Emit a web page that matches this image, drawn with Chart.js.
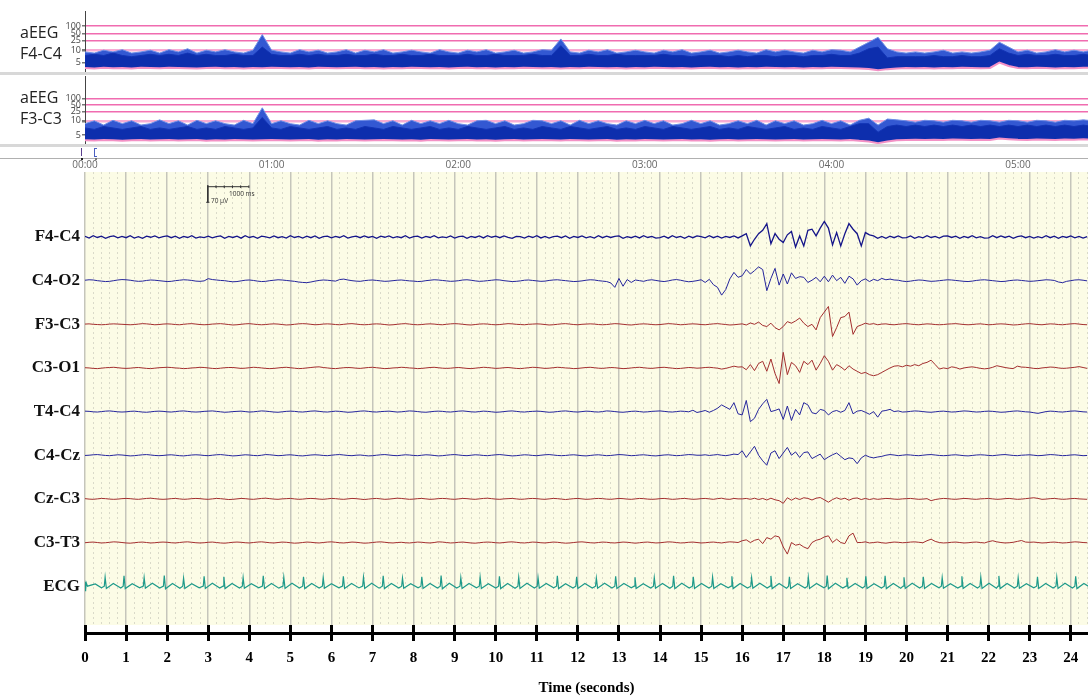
<!DOCTYPE html>
<html>
<head>
<meta charset="utf-8">
<script src="https://cdn.jsdelivr.net/npm/chart.js"></script>
<style>
  html, body { margin: 0; padding: 0; background: #fff; overflow: hidden; }
  #page { position: relative; width: 1088px; height: 700px; font-family: "Open Sans", sans-serif; }
  canvas { position: absolute; left: 0; }
  .sep { position: absolute; left: 0; width: 1088px; background: #d8d8d8; }
  .lbl { position: absolute; left: 20px; font-size: 16px; line-height: 16px; color: #222; }
  .cal { position: absolute; font-size: 6.5px; line-height: 7px; color: #333; white-space: nowrap; }
  .mk { position: absolute; }
</style>
</head>
<body>
<div id="page">
  <canvas id="aeegTop" width="1088" height="72" style="top:0px"></canvas>
  <canvas id="aeegBottom" width="1088" height="96" style="top:76px"></canvas>
  <canvas id="eeg" width="1088" height="453" style="top:172px"></canvas>
  <canvas id="ruler" width="1088" height="75" style="top:625px"></canvas>

  <div class="sep" style="top:72px;height:3px"></div>
  <div class="sep" style="top:144px;height:3px"></div>
  <div class="sep" style="top:158px;height:1px;background:#b0b0b0"></div>

  <div class="lbl" style="top:24px">aEEG</div>
  <div class="lbl" style="top:45px">F4-C4</div>
  <div class="lbl" style="top:89px">aEEG</div>
  <div class="lbl" style="top:110px">F3-C3</div>

  <div class="mk" style="left:81px;top:148px;width:1px;height:8px;background:#5a3f8f"></div>
  <div class="mk" style="left:94px;top:148px;width:2px;height:7px;border:1px solid #4a5fc0;border-right:none"></div>
  <div class="mk" style="left:81px;top:158px;width:2px;height:2px;background:#222"></div>
  <div class="mk" style="left:95px;top:158px;width:2px;height:2px;background:#777"></div>

  <div class="cal" style="left:229px;top:190px">1000 ms</div>
  <div class="cal" style="left:211px;top:197px">70 µV</div>
</div>

<script>
// ---- aEEG (amplitude integrated EEG), one sample every 0.05 min ----
const aeegStep = 0.05;
const f4c4Upper = [
  9.5,9,10.5,9.5,11,9,9.5,10.5,9,11,
  9.5,12,9,10.5,9.5,11,9.5,9,10.5,45,
  10.5,9.5,9,11,9.5,10.5,9,9.5,11,9,
  10.5,9.5,11,9,9.5,10.5,9.5,9,11,9.5,
  9,10.5,9.5,11,9,9.5,10.5,9,9.5,11,
  10.5,30,9.5,9,10.5,9.5,11,9,9.5,10.5,
  9.5,9,10.5,9.5,11,9,9.5,10.5,9,9.5,
  10.5,9.5,9,11,9.5,10.5,9.5,9,10.5,9.5,
  11,10.5,9.5,14,22,35,12,9.5,9,9.5,
  9,9.5,10.5,9,9.5,9,9.5,10.5,22,14,
  9.5,10.5,9,9.5,11,9.5,10.5,9.5,10.5
];
const f4c4Core = [
  8,8.5,8,9,8,7.5,8,8.5,8,8.5,
  8,9,8,8.5,8,8,8.5,8,8,14,
  8.5,8,8,8.5,8,8.5,8,8,8.5,8,
  8,8.5,8,8,8.5,8,8,8.5,8,8,
  8,8.5,8,8,8.5,8,8,8,8.5,8,
  8,16,8,8,8.5,8,8,8.5,8,8,
  8,8,8.5,8,8,7.5,8,8,8,7.5,
  8,7.5,8,8,7.5,8,8,7.5,8,8,
  8.5,8,8,9,12,14,7,7.5,7.5,7.5,
  7.5,8,7.5,7.5,8,7.5,7.5,8,12,9,
  8,8.5,8,8,8.5,8,8,8.5,8
];
const f4c4Lower = [
  2.8,2.6,2.9,2.7,2.8,2.6,2.9,2.8,2.7,2.9,
  2.8,2.7,2.6,2.8,2.9,2.7,2.8,2.6,2.8,2.7,
  2.9,2.8,2.7,2.8,2.6,2.9,2.8,2.7,2.8,2.9,
  2.7,2.8,2.6,2.8,2.7,2.9,2.8,2.7,2.8,2.6,
  2.8,2.9,2.7,2.8,2.6,2.8,2.7,2.9,2.8,2.7,
  2.8,2.6,2.8,2.7,2.9,2.8,2.7,2.8,2.6,2.8,
  2.7,2.9,2.8,2.7,2.8,2.6,2.8,2.9,2.7,2.8,
  2.6,2.8,2.7,2.9,2.8,2.7,2.8,2.6,2.8,2.7,
  2.9,2.8,2.7,2.6,2.4,1.8,2.3,2.6,2.8,2.7,
  2.8,2.6,2.8,2.7,2.9,2.8,2.7,2.8,5.0,3.6,
  2.8,2.7,2.9,2.8,2.6,2.8,2.7,2.9,2.8
];
const f3c3Upper = [
  9,10,8.5,10.5,9,10,8.5,9,11,9,
  10,8.5,10.5,9,10,9,8.5,10.5,9,38,
  9,10,9,8.5,10.5,9,10,9,8.5,10,
  10.5,11,9,10,8.5,10.5,9,10,9,10.5,
  9,8.5,10,10.5,9,10,8.5,9,10.5,10,
  9,10,8.5,10.5,9,10,9,8.5,10,9,
  10.5,9,10,8.5,9,10.5,9,10,8.5,9,
  10,9,10.5,8.5,10,9,10,8.5,9,10.5,
  9,10,8.5,10.5,13,8.5,12,11,10,9.5,
  10.5,10,9.5,10.5,10,9.5,10.5,10,9.5,10.5,
  10,9.5,10.5,10,9.5,10.5,10,11,10
];
const f3c3Core = [
  7.5,7,8,7.5,7,7.5,8,7,7.5,7,
  7.5,8,7,7.5,7,8,7.5,7,7.5,14,
  7.5,7,8,7.5,7,7.5,8,7,7.5,7,
  8,7.5,7,8,7.5,7,7.5,8,7,7.5,
  7,8,7.5,7,7.5,8,7,7.5,7,8,
  7.5,7,8,7.5,7,7.5,8,7,7.5,7,
  8,7.5,7,8,7.5,7,7.5,8,7,7.5,
  7,8,7.5,7,7.5,8,7,7.5,7,8,
  7.5,7,8,9,9,6,8,8.5,8,8.5,
  8,8.5,8,8.5,8,8.5,8,8.5,8,8.5,
  8,8.5,8,8.5,8,8.5,8,8.5,8
];
const f3c3Lower = [
  3.2,3.1,3.3,3.2,3.0,3.2,3.3,3.1,3.2,3.3,
  3.1,3.2,3.3,3.0,3.2,3.1,3.3,3.2,3.1,3.2,
  3.3,3.2,3.1,3.2,3.3,3.0,3.2,3.1,3.3,3.2,
  3.1,3.2,3.3,3.2,3.1,3.2,3.0,3.3,3.2,3.1,
  3.2,3.3,3.1,3.2,3.0,3.2,3.3,3.1,3.2,3.3,
  3.2,3.1,3.3,3.2,3.1,3.2,3.3,3.0,3.2,3.1,
  3.3,3.2,3.1,3.2,3.3,3.1,3.2,3.0,3.2,3.3,
  3.1,3.2,3.3,3.2,3.1,3.2,3.3,3.1,3.2,3.3,
  3.2,3.1,3.3,3.0,2.8,2.2,2.8,3.2,3.3,3.4,
  3.3,3.4,3.3,3.5,3.4,3.3,3.4,3.3,3.8,3.6,
  3.4,3.3,3.5,3.4,3.3,3.5,3.4,3.6,3.4
];
const aeegTicks = [5, 10, 25, 50, 100];
const minuteTicks = [0, 1, 2, 3, 4, 5];

// ---- raw EEG, µV, one sample every 0.1 s ----
const eegStep = 0.1;
const channelNames = ['F4-C4', 'C4-O2', 'F3-C3', 'C3-O1', 'T4-C4', 'C4-Cz', 'Cz-C3', 'C3-T3', 'ECG'];

const f4c4 = [
  3,-5,6,-2,4,-6,2,5,-4,3,
  -3,6,-5,2,-6,4,-1,5,-4,2,
  5,-3,4,-6,3,-2,6,-5,1,-3,
  4,-4,2,5,-6,3,-2,4,-5,6,
  -2,3,-6,4,1,-4,5,-3,2,-5,
  6,-2,3,-5,4,-3,5,-6,2,4,
  -4,3,-2,6,-5,1,4,-3,5,-2,
  3,-6,4,-1,5,-4,2,-3,6,-5,
  2,4,-5,3,-2,6,-4,1,-3,5,
  -5,2,4,-6,3,-2,5,-4,6,-1,
  4,-3,5,-2,-6,3,2,-5,4,-2,
  6,-4,3,-5,2,4,-3,5,-6,3,
  -2,5,-4,2,-5,6,-3,4,-2,3,
  5,-6,2,-3,4,-4,6,-2,3,-5,
  -3,4,-5,6,-2,3,-6,4,-3,5,
  2,-4,6,-3,4,-5,3,-2,5,-4,
  5,15,-40,-10,15,30,60,-30,15,-10,
  -25,10,25,-45,5,-40,30,35,5,40,
  70,40,-35,20,-40,15,60,35,15,-40,
  20,10,5,-6,3,-6,4,-3,5,-4,
  -3,5,-6,2,-4,6,-2,3,-5,4,
  5,-2,4,-6,3,-3,6,-4,2,-5,
  -4,6,-3,5,-2,4,-6,2,5,-3,
  3,-5,2,-4,6,-3,4,-6,3,-2,
  5,-4,3,-5,2
];
const c4o2 = [
  2,4,3,0,-2,-4,-3,0,3,5,
  4,2,-1,-3,-2,1,3,2,0,-2,
  -4,-3,0,2,4,3,1,-2,-3,-1,
  9,5,3,1,0,-3,-5,-4,-1,2,
  3,1,-2,-4,-3,0,2,4,3,1,
  -1,-3,-6,-8,-9,-6,-2,1,3,2,
  0,-2,5,7,3,0,-2,-3,0,2,
  3,1,-1,-3,-2,0,2,3,1,-1,
  -2,-4,-3,0,2,4,3,1,-1,-3,
  -2,0,3,4,2,-1,-3,-2,0,2,
  4,3,0,-2,-4,-3,-1,2,3,1,
  -1,-3,-2,1,3,4,2,0,-2,-4,
  -3,-1,2,4,3,0,-2,-4,-10,-30,
  10,-25,5,-8,3,0,-3,2,4,1,
  -2,-4,-1,3,5,2,-2,-5,-3,0,
  4,-8,6,-18,-30,-65,-40,8,37,15,
  22,50,30,45,62,50,-45,10,55,-20,
  30,-15,35,10,18,15,-8,2,15,-5,
  20,-5,25,0,15,-12,20,8,-20,0,
  8,-4,6,0,10,4,7,3,2,-2,
  -4,-2,1,3,2,-1,-3,-2,0,2,
  4,3,1,-1,-3,-4,-2,1,3,4,
  2,0,-2,-4,-3,0,2,3,1,-1,
  -3,-2,0,2,4,3,1,-6,-9,-3,
  0,3,4,2,-1
];
const f3c3 = [
  1,2,0,-1,-2,-1,1,2,1,0,
  -1,-2,-1,1,3,2,0,-2,-1,1,
  2,1,-1,-2,0,2,3,1,-1,-2,
  -1,1,2,3,1,-1,-3,-2,0,2,
  3,1,-1,-2,-1,1,2,1,-1,-3,
  -2,0,2,3,2,0,-2,-1,1,2,
  1,-1,-2,0,2,3,1,-1,-2,-1,
  1,2,1,-1,-3,-2,0,2,3,1,
  -1,-2,-1,1,2,1,-1,-2,0,2,
  3,2,0,-2,-3,-1,1,2,1,-1,
  -2,-1,1,3,2,0,-1,-2,0,1,
  2,1,-1,-3,-2,0,2,3,1,-1,
  -2,0,1,2,1,-1,-2,-1,1,3,
  2,0,-2,-3,-1,1,2,1,-1,-2,
  -1,1,3,2,0,-2,-1,1,2,1,
  -1,-2,0,2,3,1,-1,-3,-2,0,
  2,-3,6,0,10,-5,-10,5,-15,-25,
  -10,12,5,15,28,5,-10,0,-25,30,
  55,80,-55,-15,30,35,55,-45,-10,-3,
  5,0,3,-2,1,2,-1,-2,0,2,
  3,1,-1,-2,0,2,1,-1,-2,-1,
  1,2,3,1,-1,-2,-1,1,2,0,
  -2,-1,1,2,1,-1,-3,-2,0,2,
  3,1,-1,-2,0,2,1,-1,-2,0,
  2,3,1,-1,-2
];
const c3o1 = [
  1,0,-2,-3,-1,1,2,3,1,-1,
  -2,-1,1,2,0,-2,-3,-1,1,2,
  3,2,0,-1,-3,-2,0,1,3,2,
  0,-2,-3,-1,1,2,2,0,-2,-1,
  1,3,2,0,-2,-3,-2,0,2,3,
  1,-1,-3,-2,0,2,4,5,2,0,
  -2,-3,-1,1,2,1,-1,-2,0,2,
  3,1,-1,-3,-2,0,1,3,2,0,
  -1,-3,-2,0,2,3,1,-1,-2,-1,
  1,2,0,-2,-3,-1,1,3,2,0,
  -2,-1,1,2,0,-2,-3,-1,1,3,
  2,0,-2,-1,1,3,2,0,-1,-3,
  -2,0,2,3,1,-1,-2,0,2,1,
  -1,-3,-2,0,2,3,1,-1,-2,0,
  2,3,1,-1,-3,-2,0,2,1,-1,
  0,2,3,1,-1,-5,-2,3,8,4,
  5,-8,15,-12,20,30,-15,40,-25,-70,
  70,-30,25,10,-20,30,15,35,-10,20,
  55,30,-10,15,5,-10,10,-5,-15,-25,
  -20,-30,-35,-30,-20,-10,0,8,10,5,
  12,8,15,10,20,25,35,15,-5,0,
  -3,5,2,-5,0,3,5,2,-2,-4,
  -2,3,10,6,2,-1,-3,8,4,3,
  1,-2,-3,0,2,4,3,0,-2,-1,
  1,3,6,2,-2
];
const t4c4 = [
  2,1,-1,-2,0,2,3,1,-1,-2,
  -1,1,2,0,-2,-3,-1,1,2,1,
  -1,-2,0,2,3,1,-1,-2,-1,1,
  2,3,1,-1,-3,-2,0,1,2,0,
  -2,-1,1,3,2,0,-2,-3,-1,1,
  2,1,-1,-2,0,2,3,1,-1,-2,
  0,2,1,-1,-3,-2,0,2,3,1,
  -1,-2,0,1,2,0,-2,-1,1,3,
  2,0,-2,-3,-1,1,2,1,-1,-2,
  0,2,3,1,-1,-2,0,2,1,-1,
  -3,-2,0,2,3,1,-1,-2,0,1,
  2,1,-1,-3,-2,0,2,3,1,-1,
  -2,0,2,1,-1,-2,0,3,2,0,
  -2,-3,-1,1,2,0,-2,-1,1,2,
  3,1,-1,-2,0,2,1,-1,6,-4,
  0,5,-3,5,15,30,20,10,40,-10,
  -15,50,-45,-30,10,35,55,0,5,12,
  -35,25,-40,10,-15,40,30,-5,-10,10,
  5,-15,0,5,-3,5,40,-10,2,5,
  -3,-12,0,-25,2,5,10,0,3,-2,
  -1,1,3,2,0,-2,-3,-1,1,2,
  0,-2,-1,1,3,2,0,-2,-1,1,
  2,1,-1,-3,-2,0,2,3,1,-1,
  -2,-5,-8,-4,0,2,1,-1,-2,0,
  2,3,1,-1,-2
];
const c4cz = [
  -1,0,2,3,1,-1,-2,0,2,1,
  -1,-3,-2,0,2,3,1,-1,-2,-1,
  1,2,0,-2,-3,-1,1,2,1,-1,
  -2,0,2,3,1,-1,-3,-2,0,2,
  1,-1,-2,0,3,2,0,-2,-1,1,
  2,0,-2,-3,-1,1,2,1,-1,-2,
  0,2,3,1,-1,-2,0,1,-1,-3,
  -2,0,2,3,1,-1,-2,0,2,1,
  -1,-2,0,2,1,-1,-3,-2,0,2,
  3,1,-1,-2,0,2,1,-1,-2,0,
  2,3,1,-1,-3,-2,0,2,1,-1,
  -2,0,2,3,1,-1,-2,-1,1,2,
  0,-2,-3,-1,1,2,0,-2,-1,1,
  3,2,0,-2,-1,1,2,0,-2,-3,
  -1,1,2,0,-2,-1,1,3,2,0,
  0,2,-1,1,3,0,-2,1,5,3,
  20,-10,15,40,0,-25,-45,10,20,-15,
  10,35,0,15,-10,12,15,-15,-5,5,
  -20,-8,2,10,-5,-20,-12,-15,-38,-12,
  0,-8,-12,-8,-5,0,3,1,-2,0,
  2,1,-1,-2,0,2,3,1,-1,-2,
  -1,1,2,0,-2,-3,-1,1,2,1,
  -1,-2,0,2,3,1,-1,-2,0,1,
  2,0,-2,-1,1,3,2,0,-2,-1,
  1,2,0,-2,-1
];
const czc3 = [
  1,-1,-2,0,2,1,-1,-2,-1,1,
  2,1,-1,-2,0,2,3,1,-1,-2,
  -1,1,2,0,-2,-1,1,2,1,-1,
  -2,0,2,1,-1,-3,-2,0,2,1,
  -1,-2,0,2,3,1,-1,-2,0,1,
  2,0,-2,-1,1,2,1,-1,-2,0,
  2,1,-1,-2,0,2,1,-1,-3,-1,
  1,2,0,-2,-1,1,3,2,0,-2,
  -1,1,2,0,-2,-1,1,2,1,-1,
  -2,0,2,1,-1,-2,0,2,3,1,
  -1,-2,0,1,2,0,-2,-1,1,2,
  1,-1,-2,0,2,1,-1,-3,-1,1,
  2,0,-2,-1,1,2,1,-1,-2,0,
  2,1,-1,-2,0,2,1,-1,-2,-1,
  1,2,0,-2,-1,1,2,0,-2,-1,
  1,2,0,-2,1,3,-1,-2,2,0,
  0,2,-2,3,-3,2,-5,3,-4,-8,
  -20,5,-6,4,-3,5,2,-5,3,6,
  -4,-15,-3,5,-2,3,-6,2,4,-3,
  2,-3,1,-2,0,2,1,-1,-2,0,
  1,2,0,-2,-1,1,-8,-3,0,2,
  1,-1,-2,0,2,1,-1,-2,0,1,
  2,0,-2,-1,1,2,0,-2,-1,1,
  3,5,2,-2,-1,1,2,0,-2,-1,
  1,2,0,-1,-2
];
const c3t3 = [
  -1,1,2,0,-2,-1,1,3,2,0,
  -2,-3,-1,1,2,0,-2,-1,1,2,
  1,-1,-2,0,2,3,1,-1,-2,-1,
  1,2,0,-2,-3,-1,1,2,1,-1,
  -2,0,2,3,1,-1,-2,0,2,1,
  -1,-3,-2,0,2,1,-1,-2,0,2,
  3,1,-1,-2,0,2,1,-1,-3,-2,
  0,2,3,1,-1,-2,0,1,-1,-2,
  0,2,1,-1,-2,0,3,2,0,-2,
  -1,1,2,0,-2,-3,-1,1,2,1,
  -1,-2,0,2,3,1,-1,-2,0,2,
  1,-1,-2,0,2,1,-1,-3,-2,0,
  2,3,1,-1,-2,0,2,1,-1,-2,
  0,2,1,-1,-3,-1,1,2,0,-2,
  -1,1,3,2,0,-2,-1,1,2,0,
  -2,-1,1,2,0,-2,1,3,2,0,
  8,12,0,10,15,-5,22,15,30,25,
  -20,-52,0,-12,-8,-20,-28,0,10,15,
  25,30,0,15,0,-5,30,42,0,0,
  3,-2,0,2,-1,-3,0,2,1,-1,
  0,2,3,1,-1,8,15,5,0,-2,
  -1,1,2,0,-2,-1,1,2,0,-2,
  4,8,3,0,-2,-1,1,5,9,2,
  1,2,0,-2,-1,1,2,0,-2,-1,
  1,3,2,0,-1
];

// ECG read as breakpoints (s, µV): onset mark, then per beat pre-R, R, S, T, trough
const ecgTimes = [
  0.00,0.01,0.02,0.03,0.06,0.25,0.40,
  0.47,0.49,0.52,0.69,0.87,  0.93,0.95,0.98,1.15,1.33,  1.42,1.44,1.47,1.64,1.82,
  1.91,1.93,1.96,2.13,2.31,  2.38,2.40,2.43,2.60,2.78,  2.88,2.90,2.93,3.10,3.28,
  3.36,3.38,3.41,3.58,3.76,  3.83,3.85,3.88,4.05,4.23,  4.32,4.34,4.37,4.54,4.72,
  4.82,4.84,4.87,5.04,5.22,  5.30,5.32,5.35,5.52,5.70,  5.78,5.80,5.83,6.00,6.18,
  6.27,6.29,6.32,6.49,6.67,  6.76,6.78,6.81,6.98,7.16,  7.24,7.26,7.29,7.46,7.64,
  7.71,7.73,7.76,7.93,8.11,  8.18,8.20,8.23,8.40,8.58,  8.65,8.67,8.70,8.87,9.05,
  9.13,9.15,9.18,9.35,9.53,  9.60,9.62,9.65,9.82,10.00,  10.07,10.09,10.12,10.29,10.47,
  10.54,10.56,10.59,10.76,10.94,  11.01,11.03,11.06,11.23,11.41,  11.48,11.50,11.53,11.70,11.88,
  11.95,11.97,12.00,12.17,12.35,  12.43,12.45,12.48,12.65,12.83,  12.90,12.92,12.95,13.12,13.30,
  13.37,13.39,13.42,13.59,13.77,  13.84,13.86,13.89,14.06,14.24,  14.31,14.33,14.36,14.53,14.71,
  14.79,14.81,14.84,15.01,15.19,  15.26,15.28,15.31,15.48,15.66,  15.73,15.75,15.78,15.95,16.13,
  16.21,16.23,16.26,16.43,16.61,  16.68,16.70,16.73,16.90,17.08,  17.13,17.15,17.18,17.35,17.53,
  17.59,17.61,17.64,17.81,17.99,  18.05,18.07,18.10,18.27,18.45,  18.53,18.55,18.58,18.75,18.93,
  18.99,19.01,19.04,19.21,19.39,  19.46,19.48,19.51,19.68,19.86,  19.92,19.94,19.97,20.14,20.32,
  20.39,20.41,20.44,20.61,20.79,  20.85,20.87,20.90,21.07,21.25,  21.33,21.35,21.38,21.55,21.73,
  21.79,21.81,21.84,22.01,22.19,  22.23,22.25,22.28,22.45,22.63,  22.70,22.72,22.75,22.92,23.10,
  23.17,23.19,23.22,23.39,23.57,  23.64,23.66,23.69,23.86,24.04,  24.10,24.12,24.15,24.32,24.50
];
const ecgValues = [
  -20,20,-18,15,0,10,-7,
  0,40,-10,12,-8,  0,46,-11,11,-7,  0,38,-9,13,-8,
  0,48,-12,12,-9,  0,36,-10,11,-7,  0,44,-10,13,-8,
  0,42,-11,12,-8,  0,38,-9,11,-7,  0,46,-10,12,-9,
  0,40,-10,13,-8,  0,42,-11,12,-8,  0,38,-9,11,-7,
  0,44,-10,12,-8,  0,40,-10,13,-9,  0,46,-11,12,-8,
  0,36,-9,11,-7,  0,42,-10,12,-8,  0,48,-12,13,-8,
  0,38,-10,12,-7,  0,40,-10,11,-8,  0,44,-11,12,-9,
  0,40,-10,13,-8,  0,38,-9,12,-7,  0,46,-11,11,-8,
  0,42,-10,12,-8,  0,36,-9,13,-8,  0,44,-10,12,-7,
  0,40,-10,11,-8,  0,38,-9,12,-9,  0,46,-11,13,-8,
  0,42,-10,12,-8,  0,40,-10,11,-7,  0,44,-11,12,-8,
  0,38,-9,13,-8,  0,46,-11,12,-9,  0,42,-10,11,-8,
  0,40,-10,12,-7,  0,48,-12,13,-8,  0,38,-9,12,-8,
  0,44,-10,11,-8,  0,46,-11,12,-9,  0,40,-10,13,-8,
  0,42,-10,12,-7,  0,38,-9,11,-8,  0,44,-10,12,-8,
  0,40,-10,13,-9,  0,46,-11,12,-8,  0,38,-9,11,-7,
  0,42,-10,12,-8,  0,40,-10,13,-8,  0,44,-11,12,-8
];

// calibration mark: 1000 ms x 70 µV, segments [t0, v0, t1, v1]
const calSegments = [
  [2.99,128,3.99,128],
  [3.19,122,3.19,134], [3.39,122,3.39,134], [3.59,122,3.59,134], [3.79,122,3.79,134], [3.99,122,3.99,134],
  [2.99,134,2.99,58], [2.95,58,3.03,58]
];

const eegValues = [f4c4, c4o2, f3c3, c3o1, t4c4, c4cz, czc3, c3t3];
const eegColors = ['#15158a', '#25259c', '#a32e2e', '#a32e2e', '#25259c', '#25259c', '#a32e2e', '#a32e2e'];

// ---------------------------------------------------------------

// aEEG amplitude axis: linear 0-10 µV, logarithmic above 10 µV
class AeegScale extends Chart.LinearScale {
  static id = 'aeeg';
  static defaults = {};
  toUnit(v) {
    const w = this.options.linWeight || 1;
    return v <= 10 ? (v / 10 - 1) * w : Math.log10(v / 10);
  }
  fromUnit(u) {
    const w = this.options.linWeight || 1;
    return u <= 0 ? (u / w + 1) * 10 : 10 * Math.pow(10, u);
  }
  getPixelForValue(v) {
    const a = this.toUnit(this.min), b = this.toUnit(this.max);
    return this.getPixelForDecimal((this.toUnit(v) - a) / (b - a));
  }
  getValueForPixel(p) {
    const a = this.toUnit(this.min), b = this.toUnit(this.max);
    return this.fromUnit(a + this.getDecimalForPixel(p) * (b - a));
  }
}
Chart.register(AeegScale);

const serif = '"Liberation Serif", "Times New Roman", serif';
// fixed 85px gutter on the left, no extra room for half labels
const keepLeft = s => { s.width = 85; s.paddingTop = 0; s.paddingBottom = 0; };

function aeegSeries(vals) {
  return vals.map((v, i) => ({x: i * aeegStep, y: v}));
}

function aeegChart(id, upper, core, lower, range, withTime) {
  const x = {
    type: 'linear', min: 0, max: 5.375, display: withTime,
    afterBuildTicks: s => { s.ticks = minuteTicks.map(v => ({value: v})); },
    ticks: {
      callback: v => '0' + v + ':00', autoSkip: false, padding: 15,
      color: '#666', font: {family: '"Open Sans", sans-serif', size: 10}
    },
    grid: {display: false, drawTicks: false},
    border: {display: false}
  };
  if (withTime) x.afterFit = s => { s.height = 28; s.paddingLeft = 0; s.paddingRight = 0; };

  return new Chart(document.getElementById(id), {
    type: 'line',
    data: {
      datasets: [
        {data: aeegSeries(lower), borderColor: '#f391c5', borderWidth: 2, fill: false},
        {data: aeegSeries(core), borderColor: '#1234b5', borderWidth: 1, backgroundColor: '#0d2ead', fill: '-1'},
        {data: aeegSeries(upper), borderColor: '#6e8ee6', borderWidth: 1, backgroundColor: '#3358d2', fill: '-2'}
      ]
    },
    options: {
      responsive: false, animation: false, events: [], parsing: false,
      layout: {padding: {top: range.padTop}},
      elements: {point: {radius: 0}, line: {tension: 0}},
      plugins: {legend: {display: false}, tooltip: {enabled: false}},
      scales: {
        x: x,
        y: {
          type: 'aeeg', min: range.min, max: range.max, linWeight: range.w,
          afterBuildTicks: s => { s.ticks = aeegTicks.map(v => ({value: v})); },
          afterFit: keepLeft,
          ticks: {
            callback: v => String(v), autoSkip: false, padding: 1,
            color: '#444', font: {family: '"Open Sans", sans-serif', size: 9}
          },
          grid: {
            color: c => c.tick.value === 5 ? 'rgba(0,0,0,0)' : (c.tick.value === 10 ? '#f7acd4' : '#f06cb0'),
            lineWidth: c => c.tick.value === 10 ? 2.5 : 1.5,
            tickColor: '#777', tickLength: 3
          },
          border: {display: true, color: '#444', width: 1}
        }
      }
    }
  });
}

aeegChart('aeegTop', f4c4Upper, f4c4Core, f4c4Lower, {padTop: 11, min: 1.1, max: 407, w: 0.97}, false);
aeegChart('aeegBottom', f3c3Upper, f3c3Core, f3c3Lower, {padTop: 0, min: 1.9, max: 1000, w: 1.28}, true);

// ---- raw EEG panel: one stacked y axis per channel ----
const panelFill = {
  id: 'panelFill',
  beforeDraw(chart) {
    const {ctx, chartArea: a} = chart;
    ctx.save();
    ctx.fillStyle = '#fcfce6';
    ctx.fillRect(a.left, a.top, a.right - a.left, a.bottom - a.top);
    ctx.restore();
  }
};

const eegMax = 24.42;
const eegScales = {
  x: {
    type: 'linear', min: 0, max: eegMax,
    ticks: {display: false, stepSize: 1, includeBounds: false, autoSkip: false},
    grid: {color: '#c5c5bb', lineWidth: 1.5, drawTicks: false},
    border: {display: false}
  },
  x2: {
    type: 'linear', min: 0, max: eegMax,
    afterBuildTicks: s => { s.ticks = s.ticks.filter(t => Math.abs(t.value - Math.round(t.value)) > 0.01); },
    ticks: {display: false, stepSize: 0.2, includeBounds: false, autoSkip: false},
    grid: {color: '#dadac9', lineWidth: 1, drawTicks: false},
    border: {display: false, dash: [2, 3]}
  },
  sTop: {
    type: 'linear', axis: 'y', position: 'left', stack: 'eeg', stackWeight: 0.99, weight: 20,
    min: 0, max: 194, afterFit: keepLeft,
    ticks: {display: false}, grid: {display: false, drawTicks: false}, border: {display: false}
  },
  sBot: {
    type: 'linear', axis: 'y', position: 'left', stack: 'eeg', stackWeight: 0.39, weight: 1,
    min: -1, max: 1, afterFit: keepLeft,
    ticks: {display: false}, grid: {display: false, drawTicks: false}, border: {display: false}
  }
};
channelNames.forEach((name, i) => {
  eegScales['ch' + i] = {
    type: 'linear', axis: 'y', position: 'left', stack: 'eeg', stackWeight: 1, weight: 18 - i,
    min: -98, max: 98,
    afterBuildTicks: s => { s.ticks = [{value: 0}]; },
    afterFit: keepLeft,
    ticks: {
      callback: () => name, autoSkip: false, padding: 5, color: '#111',
      font: {family: serif, size: 17, weight: 'bold'}
    },
    grid: {display: false, drawTicks: false},
    border: {display: false}
  };
});

const eegDatasets = eegValues.map((vals, i) => ({
  data: vals.map((v, j) => ({x: j * eegStep, y: v})),
  yAxisID: 'ch' + i,
  borderColor: eegColors[i],
  borderWidth: i === 0 ? 1.3 : 1
}));
eegDatasets.push({
  data: ecgTimes.map((t, j) => ({x: t, y: ecgValues[j]})),
  yAxisID: 'ch8',
  borderColor: '#1f9a8a',
  borderWidth: 1.2
});
eegDatasets.push({
  data: calSegments.flatMap(s => [{x: s[0], y: s[1]}, {x: s[2], y: s[3]}, {x: s[2], y: null}]),
  yAxisID: 'sTop',
  borderColor: '#333',
  borderWidth: 1
});

new Chart(document.getElementById('eeg'), {
  type: 'line',
  data: {datasets: eegDatasets},
  options: {
    responsive: false, animation: false, events: [], parsing: false,
    elements: {point: {radius: 0}, line: {tension: 0}},
    plugins: {legend: {display: false}, tooltip: {enabled: false}},
    scales: eegScales
  },
  plugins: [panelFill]
});

// ---- time ruler under the EEG panel ----
new Chart(document.getElementById('ruler'), {
  type: 'line',
  data: {datasets: []},
  options: {
    responsive: false, animation: false, events: [],
    plugins: {legend: {display: false}, tooltip: {enabled: false}},
    scales: {
      x: {
        type: 'linear', min: 0, max: eegMax,
        afterFit: s => { s.height = 59; s.paddingLeft = 0; s.paddingRight = 0; },
        ticks: {
          stepSize: 1, includeBounds: false, autoSkip: false, padding: 8, color: '#000',
          font: {family: serif, size: 15, weight: 'bold'}
        },
        grid: {color: '#000', lineWidth: 3, drawTicks: false},
        border: {display: false},
        title: {
          display: true, text: 'Time (seconds)', color: '#000',
          font: {family: serif, size: 15, weight: 'bold'}, padding: {top: 4, bottom: 3}
        }
      },
      y: {
        type: 'linear', min: -1, max: 1,
        afterBuildTicks: s => { s.ticks = [{value: 0}]; },
        afterFit: keepLeft,
        ticks: {display: false},
        grid: {color: '#000', lineWidth: 3, drawTicks: false},
        border: {display: false}
      }
    }
  }
});
</script>
</body>
</html>
